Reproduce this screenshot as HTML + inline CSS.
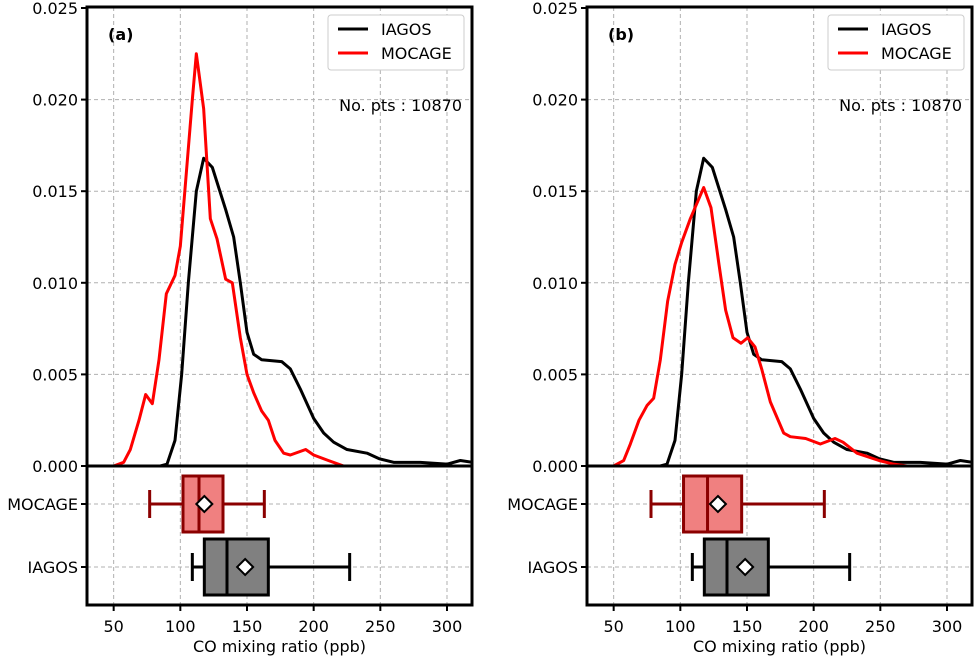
<!DOCTYPE html>
<html><head><meta charset="utf-8"><style>
html,body{margin:0;padding:0;background:#fff;}
svg{display:block;font-family:"DejaVu Sans","Liberation Sans",sans-serif;}
</style></head><body>
<svg id="fig" width="976" height="657" viewBox="0 0 976 657"></svg>
<script>
// ---- data ----
const xTicks = [50,100,150,200,250,300];
const yTicks = [0,0.005,0.010,0.015,0.020,0.025];
const yTickLabels = ["0.000","0.005","0.010","0.015","0.020","0.025"];
const boxCategories = ["MOCAGE","IAGOS"];
const iagosX = [30,85,90,96,101,106,112,117.5,124,134,140,145,150,155,161,176,182.5,190,200,207.5,215,225,240,249,260,280,300,310,319];
const iagosY = [0,0,0.0001,0.0014,0.005,0.010,0.015,0.0168,0.0163,0.0140,0.0125,0.0100,0.0073,0.0061,0.0058,0.0057,0.0053,0.0042,0.0026,0.0018,0.0013,0.0009,0.0007,0.0004,0.0002,0.0002,0.0001,0.0003,0.0002];
const mocageAX = [30,50,57.5,62.5,69,74,79,84,89.5,96,100,104.5,109,112,117.5,122.5,127.5,134,139,145,150,155,161,166,171,177.5,182.5,194,200,211,222.5,319];
const mocageAY = [0,0,0.0002,0.0009,0.0025,0.0039,0.0034,0.0058,0.0094,0.0104,0.0120,0.0160,0.0200,0.0225,0.0195,0.0135,0.0124,0.0102,0.0100,0.0070,0.0050,0.0040,0.0030,0.0025,0.0014,0.0007,0.0006,0.0009,0.0006,0.0003,0,0];
const mocageBX = [30,50,57.5,62.5,69,75,80,85,90.5,96,101,107.5,117.5,123,129,134,139.5,145.5,150.5,156,161,167.5,177.5,182.5,194,205,216,222,232.5,249,260,270,319];
const mocageBY = [0,0,0.0003,0.0012,0.0025,0.0033,0.0037,0.0058,0.0090,0.0110,0.0122,0.0135,0.0152,0.0141,0.0110,0.0085,0.0070,0.0067,0.0070,0.0065,0.0053,0.0035,0.0018,0.0016,0.0015,0.0012,0.0015,0.0013,0.0007,0.0003,0.0001,0,0];
// box stats: [whiskerLow, q1, median, q3, whiskerHigh, mean]
const boxA_mocage = [77,102,114,132,163,118];
const boxA_iagos  = [109,118,135,166,227,148.6];
const boxB_mocage = [78,102.4,120.4,146,208,128.2];
const boxB_iagos  = [109,118,135,166,227,148.6];
const nPts = "No. pts : 10870";

const NS="http://www.w3.org/2000/svg";
const svg=document.getElementById('fig');
function el(tag,attrs,parent){const e=document.createElementNS(NS,tag);for(const k in attrs)e.setAttribute(k,attrs[k]);(parent||svg).appendChild(e);return e;}
const FS=16;

function panel(off,label,mocX,mocY,boxM,boxI){
  const L=87+off,R=472+off,T=7,B=466,BB=605;
  const xMin=30,pxPer=1.3333;
  const sx=v=>L+(v-xMin)*pxPer;
  const sy=v=>B-v/0.005*91.6;
  const g=el('g',{});
  
  
  xTicks.forEach(t=>{const l=el('line',{x1:sx(t),x2:sx(t),y1:T,y2:BB,stroke:'#b0b0b0','stroke-width':1,'stroke-dasharray':'4,3'},g);
    });
  yTicks.forEach(t=>{if(t===0)return;const l=el('line',{x1:L,x2:R,y1:sy(t),y2:sy(t),stroke:'#b0b0b0','stroke-width':1,'stroke-dasharray':'4,3'},g);
    });
  const byC=[504,567];
  byC.forEach(y=>{const l=el('line',{x1:L,x2:R,y1:y,y2:y,stroke:'#b0b0b0','stroke-width':1,'stroke-dasharray':'4,3'},g);
    });
  const clip=el('clipPath',{id:'clip'+label},g);el('rect',{x:L,y:T,width:R-L,height:B-T},clip);
  function curve(xs,ys,color,name){const p=el('polyline',{points:xs.map((x,i)=>sx(x)+','+sy(ys[i])).join(' '),fill:'none',stroke:color,'stroke-width':3,'stroke-linejoin':'round','clip-path':'url(#clip'+label+')'},g);
    }
  curve(iagosX,iagosY,'#000','iagos-density-line');
  curve(mocX,mocY,'#ff0000','mocage-density-line');
  function box(s,yc,fill,edge,name){
    const bg=el('g',{},g);
    el('line',{x1:sx(s[0]),x2:sx(s[1]),y1:yc,y2:yc,stroke:edge,'stroke-width':3},bg);
    el('line',{x1:sx(s[3]),x2:sx(s[4]),y1:yc,y2:yc,stroke:edge,'stroke-width':3},bg);
    el('line',{x1:sx(s[0]),x2:sx(s[0]),y1:yc-14,y2:yc+14,stroke:edge,'stroke-width':3},bg);
    el('line',{x1:sx(s[4]),x2:sx(s[4]),y1:yc-14,y2:yc+14,stroke:edge,'stroke-width':3},bg);
    el('rect',{x:sx(s[1]),y:yc-28,width:sx(s[3])-sx(s[1]),height:56,fill:fill,stroke:edge,'stroke-width':3},bg);
    el('line',{x1:sx(s[2]),x2:sx(s[2]),y1:yc-28,y2:yc+28,stroke:edge,'stroke-width':3},bg);
    const m=sx(s[5]);el('polygon',{points:`${m},${yc-8} ${m+8},${yc} ${m},${yc+8} ${m-8},${yc}`,fill:'#fff',stroke:'#000','stroke-width':2},bg);
  }
  box(boxM,byC[0],'#f08080','#8b0000','box-mocage');
  box(boxI,byC[1],'#808080','#000','box-iagos');
  el('rect',{x:L,y:T,width:R-L,height:BB-T,fill:'none',stroke:'#000','stroke-width':3},g);
  el('line',{x1:L,x2:R,y1:B,y2:B,stroke:'#000','stroke-width':3},g);
  yTicks.forEach((t,i)=>{el('line',{x1:L-6,x2:L,y1:sy(t),y2:sy(t),stroke:'#000','stroke-width':2},g);
    const tx=el('text',{x:L-9,y:sy(t)+6,'text-anchor':'end','font-size':FS,fill:'#000'},g);tx.textContent=yTickLabels[i];
    });
  boxCategories.forEach((c,i)=>{el('line',{x1:L-6,x2:L,y1:byC[i],y2:byC[i],stroke:'#000','stroke-width':2},g);
    const tx=el('text',{x:L-9,y:byC[i]+6,'text-anchor':'end','font-size':FS,fill:'#000'},g);tx.textContent=c;
    });
  xTicks.forEach(t=>{el('line',{x1:sx(t),x2:sx(t),y1:BB,y2:BB+6,stroke:'#000','stroke-width':2},g);
    const tx=el('text',{x:sx(t),y:BB+27,'text-anchor':'middle','font-size':FS,fill:'#000'},g);tx.textContent=t;
    });
  const xl=el('text',{x:(L+R)/2,y:652,'text-anchor':'middle','font-size':FS,fill:'#000'},g);xl.textContent='CO mixing ratio (ppb)';
  
  const pl=el('text',{x:L+21,y:40,'font-size':16,'font-weight':'bold',fill:'#000'},g);pl.textContent='('+label+')';
  
  const lg=el('g',{},g);
  el('rect',{x:L+241,y:15,width:136,height:55,rx:3,fill:'#fff',stroke:'#ccc','stroke-width':1},lg);
  el('line',{x1:L+251,x2:L+281,y1:29,y2:29,stroke:'#000','stroke-width':3},lg);
  el('line',{x1:L+251,x2:L+281,y1:53,y2:53,stroke:'#ff0000','stroke-width':3},lg);
  const t1=el('text',{x:L+294,y:35,'font-size':FS,fill:'#000'},lg);t1.textContent='IAGOS';
  
  const t2=el('text',{x:L+294,y:59,'font-size':FS,fill:'#000'},lg);t2.textContent='MOCAGE';
  
  const np=el('text',{x:R-10,y:111,'text-anchor':'end','font-size':FS,fill:'#000'},g);np.textContent=nPts;
  
}
panel(0,'a',mocageAX,mocageAY,boxA_mocage,boxA_iagos);
panel(500,'b',mocageBX,mocageBY,boxB_mocage,boxB_iagos);
</script>
</body></html>
